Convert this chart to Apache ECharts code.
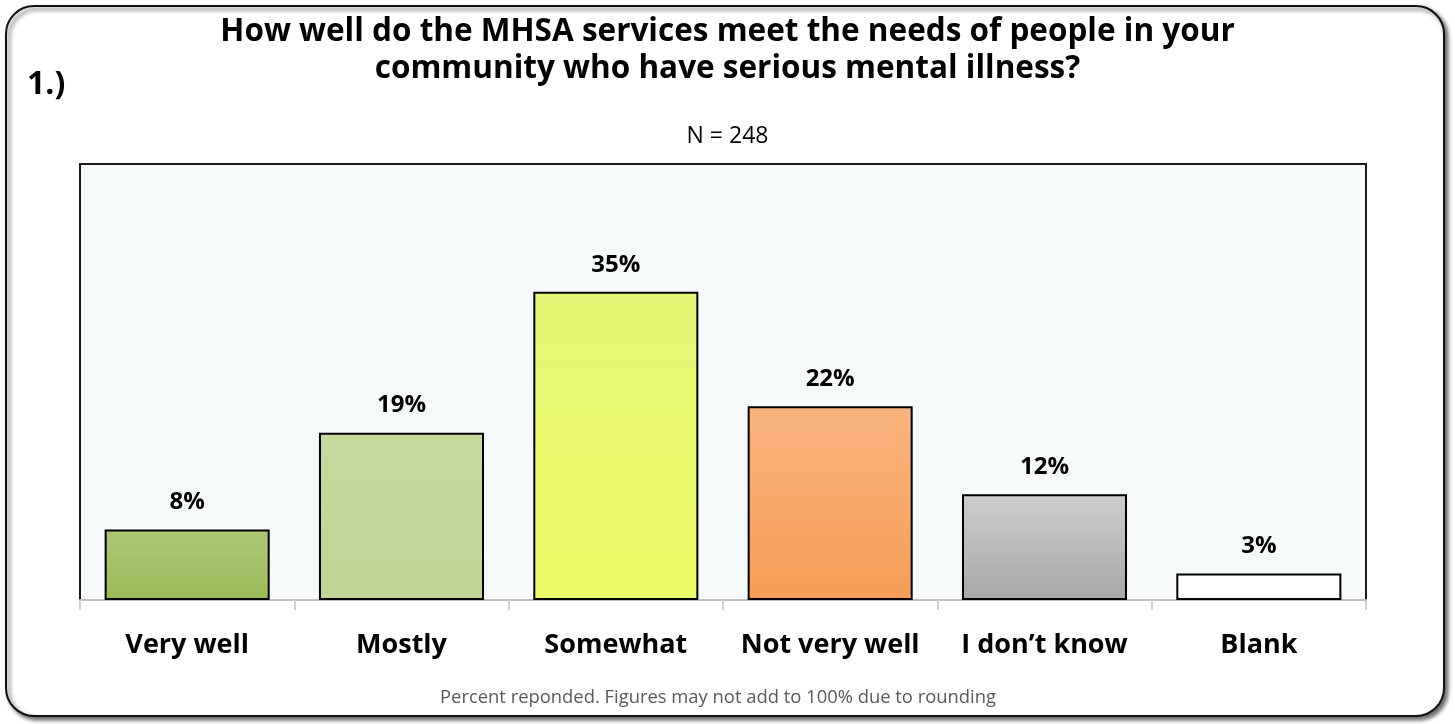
<!DOCTYPE html>
<html>
<head>
<meta charset="utf-8">
<script src="https://cdn.jsdelivr.net/npm/echarts@6/dist/echarts.min.js"></script>
<style>
  html, body { margin: 0; padding: 0; background: #ffffff; }
  #chart { width: 1455px; height: 724px; }
</style>
</head>
<body>
<div id="chart"></div>
<script>
// Survey responses (percent of respondents, N = 248)
const categories = ['Very well', 'Mostly', 'Somewhat', 'Not very well', 'I don\u2019t know', 'Blank'];
const percents = [8, 19, 35, 22, 12, 3];

// Fill per bar: [top colour, bottom colour]
const barFills = [
  ['#adc878', '#9bbb59'],
  ['#c6d99e', '#c0d496'],
  ['#e5f575', '#eefb69'],
  ['#f8b47f', '#f69d56'],
  ['#cdcdcd', '#a8a8a8'],
  ['#ffffff', '#ffffff']
];

const titleLines = [
  'How well do the MHSA services meet the needs of people in your',
  'community who have serious mental illness?'
];
const questionNo = '1.)';
const sampleNote = 'N = 248';
const footNote = 'Percent reponded. Figures may not add to 100% due to rounding';

const FONT = '"Open Sans", "Liberation Sans", sans-serif';

const chart = echarts.init(document.getElementById('chart'), null, { renderer: 'canvas' });

const barData = percents.map((v, i) => ({
  value: v,
  itemStyle: {
    color: new echarts.graphic.LinearGradient(0, 0, 0, 1, [
      { offset: 0, color: barFills[i][0] },
      { offset: 1, color: barFills[i][1] }
    ])
  }
}));

chart.setOption({
  animation: false,
  graphic: [
    {
      type: 'rect',
      z: -10,
      shape: { x: 6, y: 6, width: 1438, height: 710, r: 28 },
      style: {
        fill: '#ffffff',
        stroke: '#111111',
        lineWidth: 2,
        shadowColor: 'rgba(0,0,0,0.6)',
        shadowBlur: 4,
        shadowOffsetX: 3,
        shadowOffsetY: 3
      }
    },
    {
      type: 'text',
      left: 27,
      top: 69,
      style: { text: questionNo, font: 'bold 32px ' + FONT, fill: '#000000' }
    },
    {
      type: 'text',
      left: 'center',
      top: 16,
      style: { text: titleLines[0], font: 'bold 31.5px ' + FONT, fill: '#000000' }
    },
    {
      type: 'text',
      left: 'center',
      top: 53,
      style: { text: titleLines[1], font: 'bold 31.5px ' + FONT, fill: '#000000' }
    },
    {
      type: 'text',
      left: 'center',
      top: 125,
      style: { text: sampleNote, font: '23px ' + FONT, fill: '#000000' }
    },
    {
      type: 'text',
      left: 440,
      top: 689,
      style: { text: footNote, font: '18.4px ' + FONT, fill: '#595959' }
    }
  ],
  grid: {
    left: 80,
    right: 89,
    top: 164,
    bottom: 124,
    show: true,
    backgroundColor: '#f5f9fa',
    borderColor: '#1a1a1a',
    borderWidth: 2
  },
  xAxis: {
    type: 'category',
    data: categories,
    axisLine: { show: true, lineStyle: { color: '#bfbfbf', width: 2 } },
    axisTick: { show: true, interval: 0, length: 10, lineStyle: { color: '#d0d0d0', width: 2 } },
    axisLabel: {
      interval: 0,
      color: '#000000',
      fontFamily: FONT,
      fontWeight: 'bold',
      fontSize: 27,
      margin: 32
    }
  },
  yAxis: {
    type: 'value',
    min: 0,
    max: 49.5,
    show: false,
    splitLine: { show: false }
  },
  series: [{
    type: 'bar',
    data: barData,
    barCategoryGap: '23%',
    itemStyle: { borderColor: '#000000', borderWidth: 2 },
    label: {
      show: true,
      position: 'top',
      distance: 15,
      formatter: p => p.value + '%',
      color: '#000000',
      fontFamily: FONT,
      fontWeight: 'bold',
      fontSize: 24
    }
  }]
});
</script>
</body>
</html>
